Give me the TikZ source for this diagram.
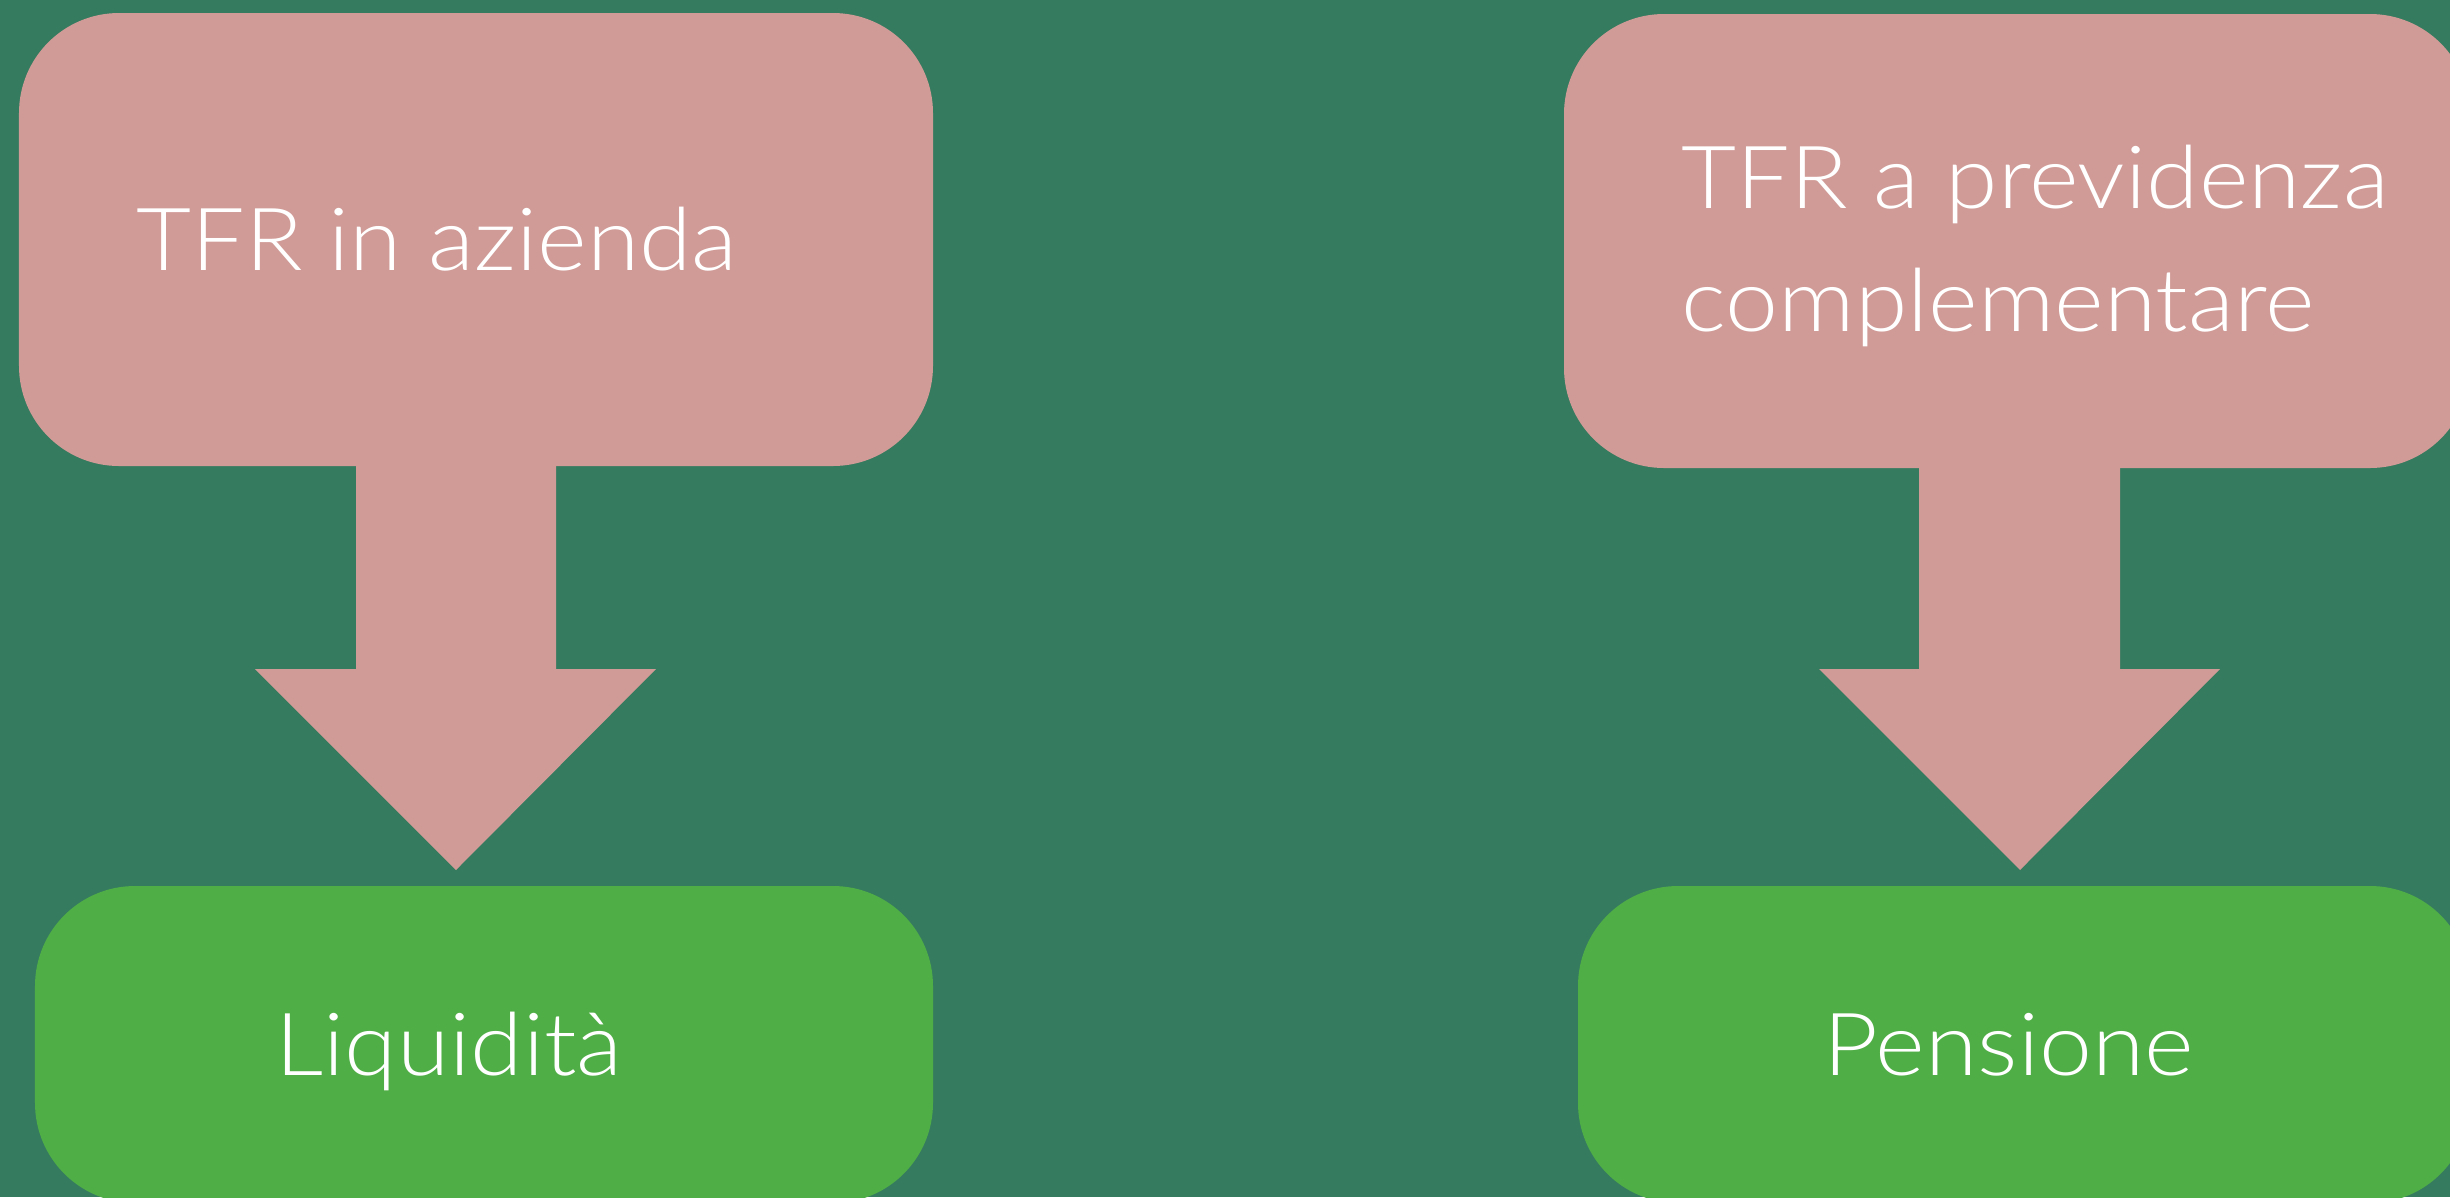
\documentclass[tikz,border=0pt]{standalone}
\usepackage{fontspec}
\setmainfont{Lato Light}[FakeStretch=1.09]

\definecolor{sfondo}{HTML}{357B5F}
\definecolor{rosa}{HTML}{D09A96}
\definecolor{verde}{HTML}{50AE46}

\begin{document}
\begin{tikzpicture}
            \fill[sfondo] (0,0) rectangle (24.5,-11.97);
            \useasboundingbox (0,0) rectangle (24.5,-11.97);
            \begin{scope}[every node/.style={rectangle,rounded corners=1cm,inner sep=0pt}]
                \node[fill=rosa,minimum width=9.14cm,minimum height=4.53cm] (b1) at (4.76,-2.395) {};
                \node[fill=rosa,minimum width=9.06cm,minimum height=4.54cm] (b2) at (20.17,-2.41) {};
                \node[fill=verde,minimum width=8.98cm,minimum height=3.17cm] (b3) at (4.84,-10.445) {};
                \node[fill=verde,minimum width=8.92cm,minimum height=3.17cm] (b4) at (20.24,-10.445) {};
            \end{scope}
            \fill[rosa] (3.56,-4.66) -- (3.56,-6.69) -- (2.55,-6.69) -- (4.56,-8.70) -- (6.56,-6.69) -- (5.56,-6.69) -- (5.56,-4.66) -- cycle;
            \fill[rosa] (19.19,-4.66) -- (19.19,-6.69) -- (18.19,-6.69) -- (20.20,-8.70) -- (22.20,-6.69) -- (21.20,-6.69) -- (21.20,-4.66) -- cycle;
            \begin{scope}[every node/.style={text=white,anchor=base west,align=left,inner sep=0pt,font=\fontsize{24.8}{34.9}\selectfont}]
                \node (azienda) at (1.36,-2.70) {TFR in azienda};
                \node (previdenza) at (16.81,-3.31) {TFR a previdenza\\complementare};
                \node (liquidita) at (2.75,-10.75) {Liquidità};
                \node (pensione) at (18.23,-10.75) {Pensione};
            \end{scope}
        \end{tikzpicture}
\end{document}
